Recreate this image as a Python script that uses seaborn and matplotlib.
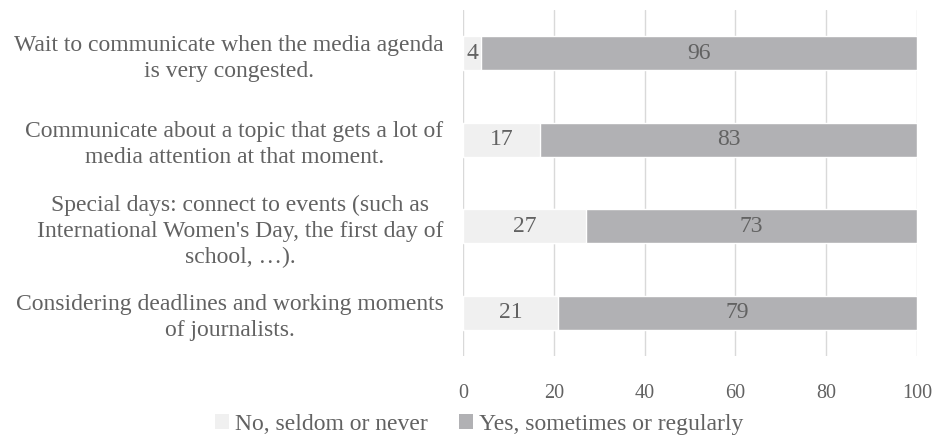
import matplotlib
matplotlib.use("Agg")
import matplotlib.pyplot as plt
import seaborn as sns
import pandas as pd
from matplotlib.patches import Patch

categories = [
    "Wait to communicate when the media agenda\nis very congested.",
    "Communicate about a topic that gets a lot of\nmedia attention at that moment.",
    "Special days: connect to events (such as\nInternational Women's Day, the first day of\nschool, \u2026).",
    "Considering deadlines and working moments\nof journalists.",
]
no_values = [4, 17, 27, 21]
yes_values = [96, 83, 73, 79]
series_names = ["No, seldom or never", "Yes, sometimes or regularly"]
xticks = [0, 20, 40, 60, 80, 100]

light = "#f0f0f0"
dark = "#b1b1b4"
text_color = "#626262"
grid_color = "#d9d9d9"

sns.set_theme(style="white")
plt.rcParams["font.family"] = ["Liberation Serif", "DejaVu Serif"]

df = pd.DataFrame({"cat": categories, "no": no_values, "yes": yes_values})
df["total"] = df["no"] + df["yes"]

fig = plt.figure(figsize=(9.35, 4.36), dpi=100)
ax = fig.add_axes([463 / 935, 1 - 356 / 436, (917 - 463) / 935, (356 - 10) / 436])

sns.barplot(data=df, x="total", y="cat", color=dark, width=0.39, ax=ax,
            saturation=1, orient="h", zorder=2)
sns.barplot(data=df, x="no", y="cat", color=light, width=0.39, ax=ax,
            saturation=1, orient="h", zorder=3)

for i, (n, y) in enumerate(zip(no_values, yes_values)):
    ax.text(n / 2, i, str(n), ha="center", va="center", fontsize=17, color=text_color, zorder=4)
    ax.text(n + y / 2, i, str(y), ha="center", va="center", fontsize=17, color=text_color, zorder=4)

ax.set_xlim(0, 100)
ax.set_ylim(3.5, -0.5)
ax.set_xticks(xticks)
ax.set_xticklabels([str(t) for t in xticks])
ax.set_xlabel("")
ax.set_ylabel("")
for s in ax.spines.values():
    s.set_visible(False)
ax.xaxis.grid(True, color=grid_color, linewidth=1, zorder=0)
ax.set_axisbelow(True)
ax.tick_params(axis="x", length=0, pad=20, labelsize=14.5, labelcolor=text_color)
ax.tick_params(axis="y", length=0, pad=14, labelsize=17, labelcolor=text_color)
for lbl in ax.get_yticklabels():
    lbl.set_multialignment("center")
    lbl.set_linespacing(1.32)

handles = [Patch(facecolor=light, edgecolor="none"), Patch(facecolor=dark, edgecolor="none")]
fig.legend(handles, series_names, loc="center", bbox_to_anchor=(479 / 935, 1 - 424 / 436),
           ncol=2, frameon=False, fontsize=17, handlelength=0.6, handleheight=0.6,
           handletextpad=0.25, columnspacing=1.3, labelcolor=text_color,
           borderpad=0, borderaxespad=0)

fig.savefig("out.png", dpi=100)
